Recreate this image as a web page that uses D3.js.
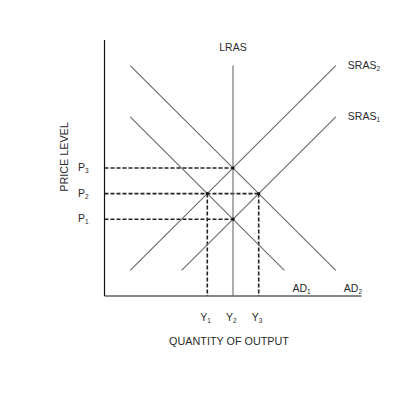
<!DOCTYPE html>
<html>
<head>
<meta charset="utf-8">
<script src="https://cdn.jsdelivr.net/npm/d3@7/dist/d3.min.js"></script>
<style>
  html, body { margin: 0; padding: 0; background: #fff; }
  svg text { font-family: "Liberation Sans", Arial, sans-serif; fill: #2a2a2a; }
</style>
</head>
<body>
<svg id="chart" width="400" height="400"></svg>
<script>
// Curves: start and end points in model units
const curveNames = ["LRAS", "SRAS1", "SRAS2", "AD1", "AD2"];
const curveStart = [[5, 0], [3, 1], [1, 1], [1, 7], [1, 9]];
const curveEnd   = [[5, 9], [9, 7], [9, 9], [7, 1], [9, 1]];

// Equilibrium points
const eqX = [5, 4, 6, 5];
const eqY = [3, 4, 4, 5];

// Tick labels
const priceLabels = ["P", "P", "P"];
const priceSubs = ["1", "2", "3"];
const priceValues = [3, 4, 5];
const outputLabels = ["Y", "Y", "Y"];
const outputSubs = ["1", "2", "3"];
const outputValues = [4, 5, 6];

const svg = d3.select("#chart");
const x = d3.scaleLinear().domain([0, 10]).range([104.5, 361.5]);
const y = d3.scaleLinear().domain([0, 10]).range([296, 40]);

// Axes
svg.append("line").attr("x1", x(0)).attr("x2", x(0)).attr("y1", y(0)).attr("y2", y(10))
  .attr("stroke", "#111").attr("stroke-width", 1.2);
svg.append("line").attr("x1", x(0)).attr("x2", x(10)).attr("y1", y(0)).attr("y2", y(0))
  .attr("stroke", "#111").attr("stroke-width", 1.2);

// Dashed guide lines
const dash = svg.append("g").attr("stroke", "#222").attr("stroke-width", 1.6)
  .attr("stroke-dasharray", "4,2");
priceValues.forEach(p => {
  const xm = d3.max(eqX.filter((_, i) => eqY[i] === p));
  dash.append("line").attr("x1", x(0)).attr("x2", x(xm)).attr("y1", y(p)).attr("y2", y(p));
});
outputValues.forEach(q => {
  if (q === 5) return;
  const ym = d3.max(eqY.filter((_, i) => eqX[i] === q));
  dash.append("line").attr("x1", x(q)).attr("x2", x(q)).attr("y1", y(ym)).attr("y2", y(0));
});

// Curves
svg.append("g").selectAll("line").data(curveNames).join("line")
  .attr("x1", (d, i) => x(curveStart[i][0]))
  .attr("y1", (d, i) => y(curveStart[i][1]))
  .attr("x2", (d, i) => x(curveEnd[i][0]))
  .attr("y2", (d, i) => y(curveEnd[i][1]))
  .attr("stroke", "#6a6a6a").attr("stroke-width", 1.1);

// Equilibrium dots
svg.append("g").selectAll("circle").data(eqX).join("circle")
  .attr("cx", (d) => x(d)).attr("cy", (d, i) => y(eqY[i])).attr("r", 1.6).attr("fill", "#111");

function label(g, tx, ty, main, sub, anchor) {
  const t = g.append("text").attr("x", tx).attr("y", ty).attr("font-size", 10.5)
    .attr("text-anchor", anchor || "start");
  t.append("tspan").text(main);
  if (sub) t.append("tspan").attr("font-size", 6.5).attr("dy", 2).text(sub);
  return t;
}

const lab = svg.append("g");
label(lab, x(5), y(9) - 15, "LRAS", null, "middle");
label(lab, x(9) + 12, y(9) + 3, "SRAS", "2");
label(lab, x(9) + 12, y(7) + 3, "SRAS", "1");
label(lab, x(7) + 8, y(1) + 22, "AD", "1");
label(lab, x(9) + 8, y(1) + 22, "AD", "2");

priceValues.forEach((p, i) => label(lab, 78, y(p) + 3, priceLabels[i], priceSubs[i]));
outputValues.forEach((q, i) => label(lab, x(q) - 7, y(0) + 25, outputLabels[i], outputSubs[i]));

lab.append("text").attr("x", 229).attr("y", 345).attr("text-anchor", "middle")
  .attr("font-size", 10.8).text("QUANTITY OF OUTPUT");
lab.append("text").attr("transform", "translate(68,157) rotate(-90)").attr("text-anchor", "middle")
  .attr("font-size", 10.8).text("PRICE LEVEL");
</script>
</body>
</html>
